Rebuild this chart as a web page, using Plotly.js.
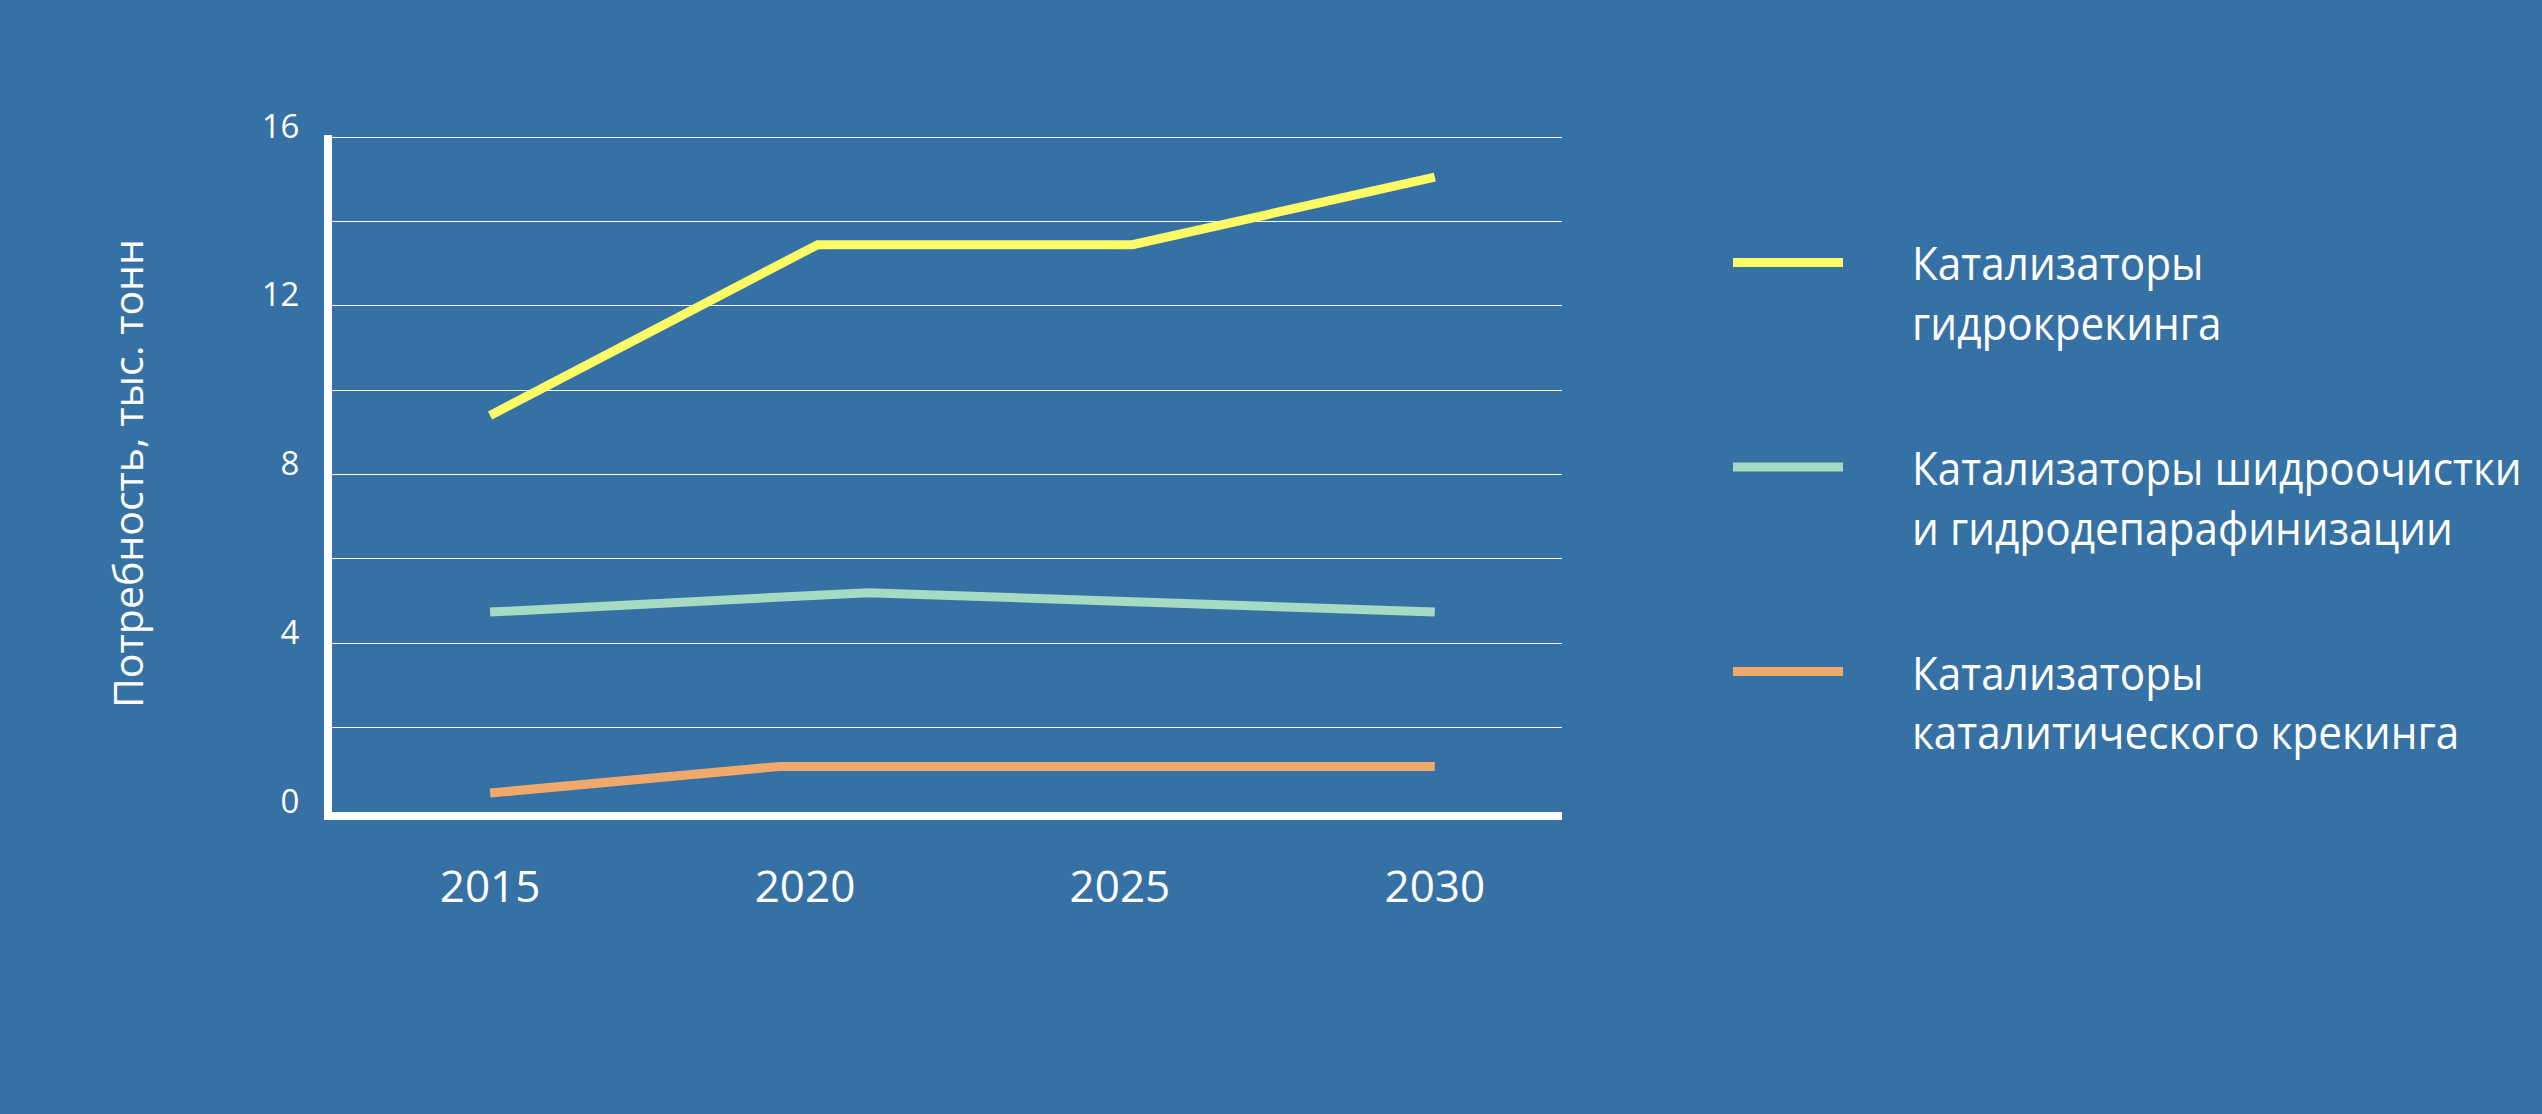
<!DOCTYPE html>
<html>
<head>
<meta charset="utf-8">
<script src="https://cdn.plot.ly/plotly-3.0.1.min.js"></script>
<style>
  html, body { margin: 0; padding: 0; background: #3571a4; }
  #chart { width: 2542px; height: 1114px; }
  .legend .scrollbox, .legend g { clip-path: none !important; }
  text.legendtext {
    transform-box: fill-box;
    transform-origin: 0 50%;
    transform: translateX(64px) scaleX(0.92);
  }
</style>
</head>
<body>
<div id="chart"></div>
<script>
// Data
const seriesNames = [
  'Катализаторы<br>гидрокрекинга',
  'Катализаторы шидроочистки<br>и гидродепарафинизации',
  'Катализаторы<br>каталитического крекинга'
];
const hydrocrackingYears = [2015, 2020.2, 2025.2, 2030];
const hydrocrackingValues = [9.4, 13.45, 13.45, 15.05];
const hydrotreatingYears = [2015, 2021, 2030];
const hydrotreatingValues = [4.74, 5.2, 4.74];
const catCrackingYears = [2015, 2019.6, 2030];
const catCrackingValues = [0.45, 1.08, 1.08];
const xTickYears = [2015, 2020, 2025, 2030];
const xTickLabels = ['2015', '2020', '2025', '2030'];
const yTickValues = [0, 4, 8, 12, 16];
const yTickLabels = ['0', '4', '8', '12', '16'];
const colors = ['#fdfc66', '#a5dbc2', '#eea96b'];
const yTitle = 'Потребность, тыс. тонн';

const traces = [
  {x: hydrocrackingYears, y: hydrocrackingValues, name: seriesNames[0]},
  {x: hydrotreatingYears, y: hydrotreatingValues, name: seriesNames[1]},
  {x: catCrackingYears, y: catCrackingValues, name: seriesNames[2]}
].map((t, i) => Object.assign(t, {
  type: 'scatter', mode: 'lines', legendgroup: 'g' + i,
  line: {color: colors[i], width: 9, shape: 'linear'},
  hoverinfo: 'skip'
}));

const layout = {
  width: 2542, height: 1114,
  paper_bgcolor: '#3571a4', plot_bgcolor: '#3571a4',
  margin: {l: 332, r: 980, t: 135, b: 302, autoexpand: false},
  font: {family: '"Open Sans", "Noto Sans", sans-serif', color: '#ffffff'},
  showlegend: true,
  legend: {
    xref: 'container', yref: 'container',
    x: 1728 / 2542, y: 1 - 226 / 1114, xanchor: 'left', yanchor: 'top',
    bgcolor: 'rgba(0,0,0,0)', borderwidth: 0,
    font: {size: 46, color: '#ffffff'},
    traceorder: 'grouped', tracegroupgap: 82,
    valign: 'top', itemwidth: 110
  },
  xaxis: {
    range: [2012.49, 2032.02],
    tickmode: 'array', tickvals: xTickYears, ticktext: xTickLabels,
    showgrid: false, zeroline: false,
    showline: true, linecolor: '#ffffff', linewidth: 8,
    ticks: '', ticklabelstandoff: 29,
    tickfont: {size: 44, color: '#ffffff'}
  },
  yaxis: {
    range: [0, 16.05],
    tickmode: 'array', tickvals: yTickValues, ticktext: yTickLabels,
    showgrid: true, gridcolor: '#ffffff', gridwidth: 1,
    minor: {dtick: 2, showgrid: true, gridcolor: '#ffffff', gridwidth: 1},
    zeroline: false,
    showline: true, linecolor: '#ffffff', linewidth: 8,
    ticks: '', ticklabelstandoff: 18, ticklabelshift: -11,
    tickfont: {size: 33, color: '#ffffff'},
    title: {text: yTitle, font: {size: 41, color: '#ffffff'}, standoff: 108}
  }
};

Plotly.newPlot('chart', traces, layout, {displayModeBar: false, staticPlot: true});
</script>
</body>
</html>
